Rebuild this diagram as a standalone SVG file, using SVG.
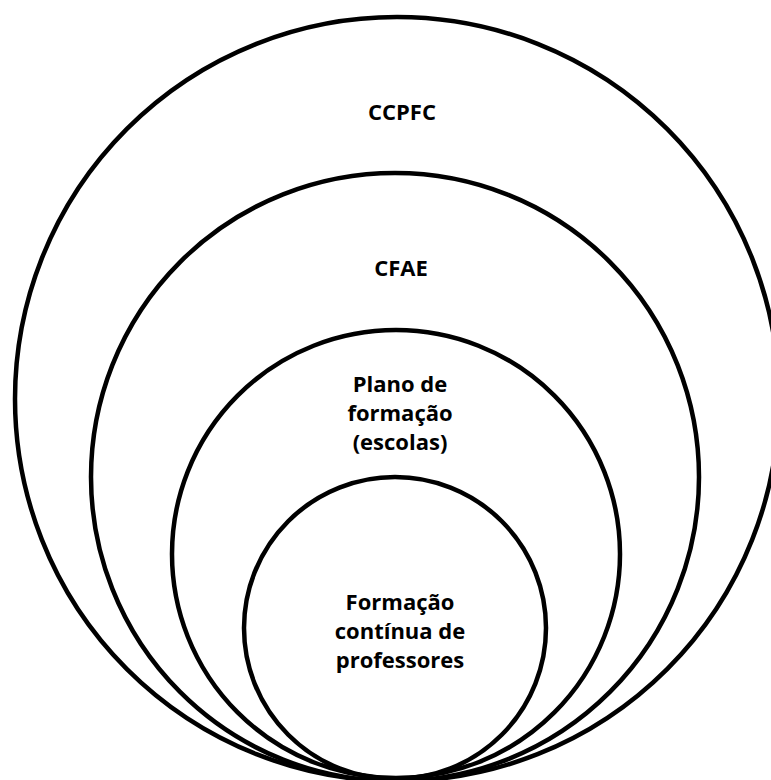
<svg xmlns="http://www.w3.org/2000/svg" width="771" height="780" viewBox="0 0 771 780">
<style>
.ring{fill:none;stroke:#000;stroke-width:4.5}
.lbl{font-family:"Open Sans","Liberation Sans",sans-serif;font-weight:bold;font-size:22px;fill:#000;text-anchor:middle}
</style>
<rect width="771" height="780" fill="#fff"/>
<g id="ccpfc">
<circle class="ring" cx="397" cy="399" r="382"/>
<text class="lbl" x="402" y="120">CCPFC</text>
</g>
<g id="cfae">
<circle class="ring" cx="395" cy="477" r="304"/>
<text class="lbl" x="401" y="276">CFAE</text>
</g>
<g id="plano">
<circle class="ring" cx="396" cy="554" r="224"/>
<text class="lbl" x="400" y="392">Plano de</text>
<text class="lbl" x="400" y="421">formação</text>
<text class="lbl" x="400" y="450">(escolas)</text>
</g>
<g id="formacao">
<circle class="ring" cx="395" cy="628" r="151"/>
<text class="lbl" x="400" y="610">Formação</text>
<text class="lbl" x="400" y="639">contínua de</text>
<text class="lbl" x="400" y="668">professores</text>
</g>
<g id="connectors"/>
</svg>
